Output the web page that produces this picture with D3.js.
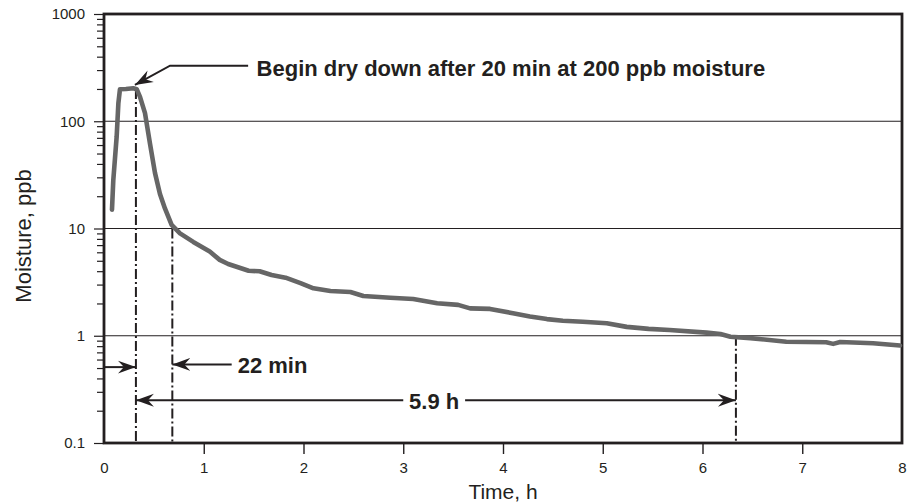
<!DOCTYPE html>
<html><head><meta charset="utf-8">
<script src="https://cdn.jsdelivr.net/npm/d3@7"></script>
<style>
html,body{margin:0;padding:0;background:#fff;}
svg{display:block;font-family:"Liberation Sans",Arial,Helvetica,sans-serif;}
</style></head>
<body><svg id="chart" width="916" height="503"></svg>
<script>
// ---- data ----
const times    = [0.08,0.093,0.127,0.144,0.16,0.22,0.294,0.328,0.361,0.411,0.461,0.511,0.561,0.611,0.678,0.762,0.895,1.06,1.16,1.245,1.45,1.56,1.68,1.82,1.97,2.1,2.27,2.47,2.6,2.87,3.1,3.34,3.55,3.67,3.87,4.1,4.27,4.44,4.6,4.8,5.04,5.24,5.46,5.67,6.04,6.18,6.28,6.48,6.84,7.24,7.31,7.38,7.71,7.98];
const moisture = [15,28,72,147,199,200,203,199,169,119,62,33,21,15.4,10.8,9.0,7.5,6.1,5.1,4.67,4.04,3.99,3.68,3.48,3.1,2.77,2.61,2.56,2.35,2.26,2.20,2.01,1.94,1.80,1.78,1.62,1.51,1.43,1.38,1.35,1.31,1.21,1.16,1.13,1.07,1.04,0.98,0.95,0.88,0.87,0.84,0.875,0.85,0.81];
const xTicks = [0,1,2,3,4,5,6,7,8];
const yTicks = [0.1,1,10,100,1000];
const yTickLabels = ["0.1","1","10","100","1000"];
const gridValues = [1,10,100];
const markerTimes = [0.32,0.685,6.335];
const markerTopValues = [200,10,1];
const annotationText = "Begin dry down after 20 min at 200 ppb moisture";
const label22 = "22 min";
const label59 = "5.9 h";

// ---- layout ----
const svg = d3.select("#chart");
const L = 104, R = 902, T = 14, B = 443;
const x = d3.scaleLinear().domain([0,8]).range([L,R]);
const y = d3.scaleLog().domain([0.1,1000]).range([B,T]);
const ink = "#231f20";

const defs = svg.append("defs");
defs.append("marker").attr("id","ah").attr("markerUnits","userSpaceOnUse")
  .attr("viewBox","-18 -7 19 14").attr("refX",0).attr("refY",0)
  .attr("markerWidth",19).attr("markerHeight",14).attr("orient","auto")
  .append("path").attr("d","M0,0 L-18,-6.5 L-12,0 L-18,6.5 Z").attr("fill",ink);

// gridlines
svg.append("g").selectAll("line").data(gridValues).join("line")
  .attr("x1",L).attr("x2",R).attr("y1",d=>y(d)).attr("y2",d=>y(d))
  .attr("stroke",ink).attr("stroke-width",1.2);

// minor y ticks
const minor = [];
for (let d = 0.1; d < 1000; d *= 10) for (let k = 2; k <= 9; k++) minor.push(+(d*k).toPrecision(3));
const yMinor = svg.append("g").attr("transform",`translate(${L},0)`)
  .call(d3.axisLeft(y).tickValues(minor).tickSize(7).tickFormat(""));
yMinor.select(".domain").remove();
yMinor.selectAll("line").attr("stroke",ink).attr("stroke-width",1.2);

// major y axis
const yAx = svg.append("g").attr("transform",`translate(${L},0)`)
  .call(d3.axisLeft(y).tickValues(yTicks).tickSize(10).tickPadding(9)
        .tickFormat((d,i)=>yTickLabels[i]));
yAx.attr("font-size",null).attr("font-family",null);
yAx.select(".domain").remove();
yAx.selectAll("line").attr("stroke",ink).attr("stroke-width",1.2);
yAx.selectAll("text").style("font-size","15px").attr("fill",ink);

// x axis
const xAx = svg.append("g").attr("transform",`translate(0,${B})`)
  .call(d3.axisBottom(x).tickValues(xTicks).tickSize(11).tickPadding(8).tickFormat(d3.format("d")));
xAx.attr("font-size",null).attr("font-family",null);
xAx.select(".domain").remove();
xAx.selectAll(".tick line").attr("stroke",ink).attr("stroke-width",1.4)
  .attr("display",d=> (d===0||d===8) ? "none" : null);
xAx.selectAll("text").style("font-size","15px").attr("fill",ink);

// frame
svg.append("rect").attr("x",L).attr("y",T).attr("width",R-L).attr("height",B-T)
  .attr("fill","none").attr("stroke",ink).attr("stroke-width",2.8);

// dash-dot markers
svg.append("g").selectAll("line").data(markerTimes).join("line")
  .attr("x1",d=>x(d)).attr("x2",d=>x(d))
  .attr("y1",(d,i)=>y(markerTopValues[i])).attr("y2",B)
  .attr("stroke",ink).attr("stroke-width",2).attr("stroke-dasharray","10,3,2,3");

// curve
const line = d3.line().x((d,i)=>x(times[i])).y(d=>y(d));
svg.append("path").datum(moisture).attr("d",line)
  .attr("fill","none").attr("stroke","#666666").attr("stroke-width",4.6)
  .attr("stroke-linejoin","round").attr("stroke-linecap","round");

// arrows
function arrow(pts){
  svg.append("path").attr("d",d3.line()(pts.map(p=>[x(p[0]),y(p[1])])))
    .attr("fill","none").attr("stroke",ink).attr("stroke-width",2)
    .attr("marker-end","url(#ah)");
}
arrow([[0,0.51],[markerTimes[0],0.51]]);
arrow([[1.28,0.54],[markerTimes[1],0.54]]);
arrow([[3.0,0.25],[markerTimes[0],0.25]]);
arrow([[3.62,0.25],[markerTimes[2],0.25]]);
arrow([[1.445,330],[0.662,330],[0.31,218]]);

function txt(xp,yp,s,anchor){
  return svg.append("text").attr("x",xp).attr("y",yp).attr("text-anchor",anchor)
    .attr("dominant-baseline","central").attr("font-weight","bold")
    .attr("font-size",22).attr("fill",ink).text(s);
}
txt(x(1.53),y(330)+3,annotationText,"start");
txt(x(1.34),y(0.54)+1,label22,"start");
txt(x(3.31),y(0.25)+1,label59,"middle");

// axis titles
svg.append("text").attr("x",503).attr("y",499).attr("text-anchor","middle")
  .attr("font-size",21).attr("fill",ink).text("Time, h");
svg.append("text").attr("transform","translate(31,236) rotate(-90)").attr("text-anchor","middle")
  .attr("font-size",22).attr("fill",ink).text("Moisture, ppb");
</script></body></html>
